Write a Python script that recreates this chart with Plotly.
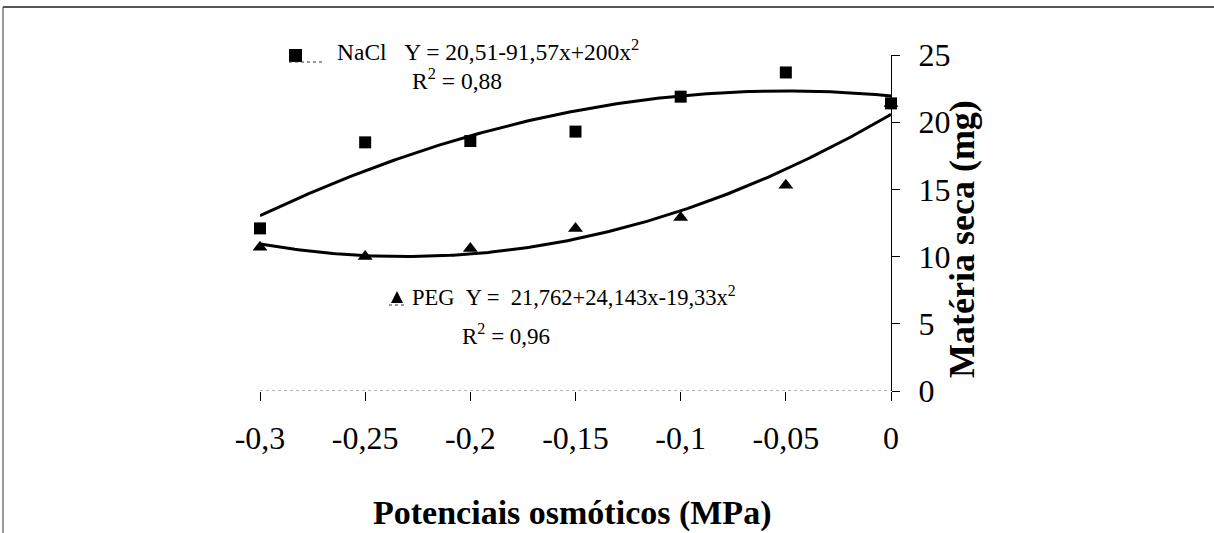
import numpy as np
import plotly.graph_objects as go

# ---- data ----
potenciais = [-0.3, -0.25, -0.2, -0.15, -0.1, -0.05, 0.0]
nacl = [12.1, 18.5, 18.6, 19.3, 21.9, 23.7, 21.4]
peg = [10.7, 10.0, 10.6, 12.1, 12.9, 15.3, 21.4]
x_tickvals = [-0.3, -0.25, -0.2, -0.15, -0.1, -0.05, 0.0]
x_ticktext = ["-0,3", "-0,25", "-0,2", "-0,15", "-0,1", "-0,05", "0"]
y_tickvals = [0, 5, 10, 15, 20, 25]
y_ticktext = ["0", "5", "10", "15", "20", "25"]
nacl_label = "NaCl\u00a0\u00a0\u00a0Y = 20,51-91,57x+200x<sup>2</sup>"
nacl_r2 = "R<sup>2</sup> = 0,88"
peg_label = "PEG\u00a0\u00a0Y =\u00a0\u00a021,762+24,143x-19,33x<sup>2</sup>"
peg_r2 = "R<sup>2</sup> = 0,96"

FONT = "Liberation Serif, Times New Roman, serif"
W, H = 1214, 533
L, R, T, B = 260, 891, 55, 391  # plot area in pixels


def px(x):
    return (x - L) / (R - L)


def py(y):
    return (B - y) / (B - T)


# quadratic trend lines fitted to the data
xs = np.linspace(min(potenciais), max(potenciais), 200)
fit_nacl = np.polyval(np.polyfit(potenciais, nacl, 2), xs)
fit_peg = np.polyval(np.polyfit(potenciais, peg, 2), xs)

fig = go.Figure()
fig.add_trace(go.Scatter(x=xs, y=fit_nacl, mode="lines", cliponaxis=False,
                         line=dict(color="black", width=3), hoverinfo="skip"))
fig.add_trace(go.Scatter(x=xs, y=fit_peg, mode="lines", cliponaxis=False,
                         line=dict(color="black", width=3), hoverinfo="skip"))
fig.add_trace(go.Scatter(x=potenciais, y=peg, mode="markers", cliponaxis=False,
                         marker=dict(symbol="triangle-up", size=13, color="black")))
fig.add_trace(go.Scatter(x=potenciais, y=nacl, mode="markers", cliponaxis=False,
                         marker=dict(symbol="square", size=12, color="black")))

shapes = [
    # dotted x-axis baseline
    dict(type="line", xref="x", yref="y", x0=-0.3, x1=0, y0=0, y1=0,
         line=dict(color="#666", width=1, dash="dot"), layer="below"),
    # frame (top and left)
    dict(type="line", xref="paper", yref="paper", x0=px(3), x1=px(1214),
         y0=py(7), y1=py(7), line=dict(color="#555", width=2)),
    dict(type="line", xref="paper", yref="paper", x0=px(3), x1=px(3),
         y0=py(7), y1=py(533), line=dict(color="#555", width=1.2)),
    # legend glyph NaCl
    dict(type="rect", xref="paper", yref="paper", x0=px(289), x1=px(302),
         y0=py(62), y1=py(49), fillcolor="black", line=dict(width=0)),
    dict(type="line", xref="paper", yref="paper", x0=px(289), x1=px(323),
         y0=py(62), y1=py(62), line=dict(color="#333", width=1, dash="dot")),
    # legend glyph PEG
    dict(type="path", xref="paper", yref="paper",
         path=f"M {px(391)},{py(303)} L {px(403)},{py(303)} L {px(397)},{py(291)} Z",
         fillcolor="black", line=dict(width=0)),
    dict(type="line", xref="paper", yref="paper", x0=px(389), x1=px(405),
         y0=py(305), y1=py(305), line=dict(color="#333", width=1, dash="dot")),
]

annotations = [
    dict(text=nacl_label, x=px(335), y=py(50), xanchor="left", yanchor="middle", size=23.5),
    dict(text=nacl_r2, x=px(410), y=py(79), xanchor="left", yanchor="middle", size=23.5),
    dict(text=peg_label, x=px(410), y=py(296), xanchor="left", yanchor="middle", size=22.5),
    dict(text=peg_r2, x=px(460), y=py(334), xanchor="left", yanchor="middle", size=23),
]
for a in annotations:
    s = a.pop("size")
    a.update(xref="paper", yref="paper", showarrow=False,
             font=dict(family=FONT, size=s, color="black"))

annotations.append(dict(text="<b>Potenciais osmóticos (MPa)</b>", x=px(572), y=py(513),
                        xref="paper", yref="paper", showarrow=False,
                        xanchor="center", yanchor="middle",
                        font=dict(family=FONT, size=34, color="black")))
annotations.append(dict(text="<b>Matéria seca (mg)</b>", x=px(962), y=py(239),
                        xref="paper", yref="paper", showarrow=False, textangle=-90,
                        xanchor="center", yanchor="middle",
                        font=dict(family=FONT, size=36, color="black")))

fig.update_layout(
    width=W, height=H,
    margin=dict(l=L, r=W - R, t=T, b=H - B, pad=0),
    paper_bgcolor="white", plot_bgcolor="white",
    showlegend=False,
    shapes=shapes, annotations=annotations,
    xaxis=dict(range=[-0.3, 0], tickvals=x_tickvals, ticktext=x_ticktext,
               showgrid=False, zeroline=False, showline=False,
               ticks="outside", ticklen=9, tickcolor="black", tickwidth=1,
               ticklabelstandoff=10,
               tickfont=dict(family=FONT, size=32, color="black")),
    yaxis=dict(range=[0, 25], tickvals=y_tickvals, ticktext=y_ticktext,
               side="right", showgrid=False, zeroline=False,
               showline=True, linecolor="black", linewidth=1,
               ticks="outside", ticklen=8, tickcolor="black", tickwidth=1,
               ticklabelstandoff=12,
               tickfont=dict(family=FONT, size=32, color="black")),
)

fig.write_html("out.html", config={"displayModeBar": False},
               post_script="document.body.style.margin='0';document.body.style.overflow='hidden';")
